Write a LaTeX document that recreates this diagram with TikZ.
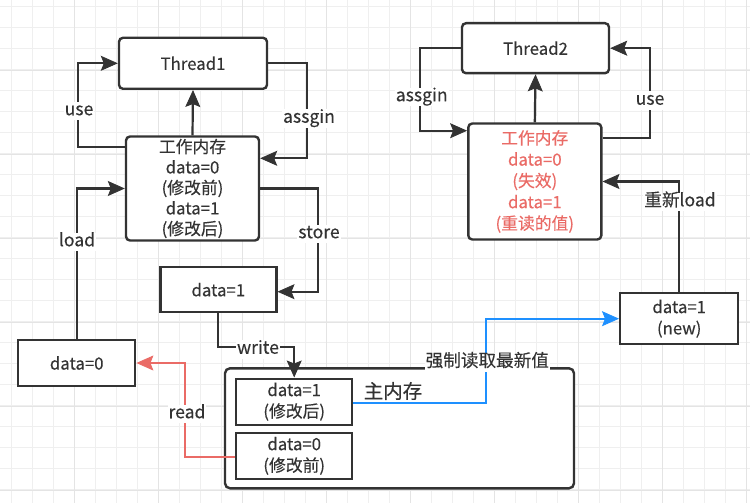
\documentclass[tikz,border=0pt]{standalone}
\usepackage{fontspec}
\setmainfont{Noto Sans CJK SC}[FakeBold=0.25]
\usetikzlibrary{arrows.meta}
\definecolor{ln}{HTML}{333333}
\definecolor{tx}{HTML}{333333}
\definecolor{redc}{HTML}{EA6B66}
\definecolor{bluec}{HTML}{1E90FF}
\definecolor{gmin}{HTML}{EFEFEF}
\definecolor{gmaj}{HTML}{E4E4E4}
\newcommand\dgfont{\fontsize{16.8}{20.5}\selectfont}
\newcommand\dgfontb{\fontsize{16.8}{21.3}\selectfont}
\newcommand\dglfont{\fontsize{17.6}{21}\selectfont}
\tikzset{
  box/.style={draw=ln, line width=2.4pt, fill=white, rounded corners=4pt, text=tx, align=center, inner sep=0pt, font=\dgfont},
  sbox/.style={box, rounded corners=0pt},
  tipk/.style={-{Stealth[length=17pt,width=15pt,inset=3pt,line width=0.8pt]}},
  conn/.style={draw=ln, line width=2.2pt, tipk},
  rconn/.style={conn, draw=redc},
  bconn/.style={conn, draw=bluec},
  lbl/.style={fill=white, text=tx, font=\dglfont, inner sep=1pt, text height=12.5pt, text depth=4pt},
  gminor/.style={draw=gmin, line width=1.1pt},
  gmajor/.style={draw=gmaj, line width=1.1pt}
}
\begin{document}
\begin{tikzpicture}[x=1pt,y=-1pt]
\useasboundingbox (0,0) rectangle (750,503);
\fill[white] (0,0) rectangle (750,503);
\foreach \i in {0,...,35} \draw[gminor] ({11.7+21*\i},0) -- ({11.7+21*\i},503);
\foreach \j in {0,...,23} \draw[gminor] (0,{6.7+21*\j}) -- (750,{6.7+21*\j});
\foreach \i in {0,...,8} \draw[gmajor] ({74.3+84*\i},0) -- ({74.3+84*\i},503);
\foreach \j in {0,...,5} \draw[gmajor] (0,{70.7+84*\j}) -- (750,{70.7+84*\j});

% nodes
\node[box, minimum width=148pt, minimum height=51pt] (t1) at (193,63.3) {Thread1};
\node[box, minimum width=133pt, minimum height=104pt] (wm1) at (192.5,188.5) {工作内存\\data=0\\(修改前)\\data=1\\(修改后)};
\node[sbox, minimum width=116pt, minimum height=45pt] (mid1) at (218.3,289.7) {data=1};
\node[sbox, minimum width=117pt, minimum height=46pt] (d0) at (76.7,363) {data=0};
\node[box, rounded corners=5pt, minimum width=349pt, minimum height=120pt] (mm) at (399.5,428.3) {};
\node[sbox, font=\dgfontb, minimum width=116pt, minimum height=46pt] (in1) at (294.2,401.7) {data=1\\(修改后)};
\node[sbox, font=\dgfontb, minimum width=116pt, minimum height=46pt] (in0) at (294.2,455.8) {data=0\\(修改前)};
\node[box, minimum width=147pt, minimum height=50pt] (t2) at (535.5,48.2) {Thread2};
\node[box, font=\dgfontb, text=redc, minimum width=133pt, minimum height=116pt] (wm2) at (534.8,181.5) {工作内存\\data=0\\(失效)\\data=1\\(重读的值)};
\node[sbox, font=\dgfontb, minimum width=118pt, minimum height=51pt] (new) at (679.2,318.7) {data=1\\(new)};
\node[text=tx, font=\fontsize{19.5}{22}\selectfont, inner sep=0pt] (mmlbl) at (393,391) {主内存};

% connectors thread1
\draw[conn] (wm1.north) -- (t1.south);
\draw[conn] (wm1.west |- 0,146.7) -- (78.3,146.7) -- (78.3,63.3) -- (t1.west);
\draw[conn] (t1.east) -- (307.3,63.3) -- (307.3,158.3) -- (wm1.east |- 0,158.3);
\draw[conn] (d0.north) -- (76.7,188.5) -- (wm1.west);
\draw[conn] (wm1.east) -- (318.3,188.5) -- (318.3,291.7) -- (mid1.east |- 0,291.7);
\draw[conn] (mid1.south) -- (218.3,346.7) -- (294.2,346.7) -- (in1.north);
\draw[rconn] (in0.west |- 0,456.7) -- (185,456.7) -- (185,363) -- (d0.east);
\draw[bconn] (in1.east |- 0,403.3) -- (486,403.3) -- (486,318.7) -- (new.west);
% connectors thread2
\draw[conn] (wm2.north) -- (t2.south);
\draw[conn] (t2.west) -- (420,48.2) -- (420,130.7) -- (wm2.west |- 0,130.7);
\draw[conn] (wm2.east |- 0,138.3) -- (650,138.3) -- (650,48.2) -- (t2.east);
\draw[conn] (new.north) -- (679.2,181.5) -- (wm2.east);

% labels
\node[lbl] (luse1) at (79,111) {use};
\node[lbl] (lassgin1) at (309,118.5) {assgin};
\node[lbl] (lload) at (77,242) {load};
\node[lbl] (lstore) at (319,234) {store};
\node[lbl] (lwrite) at (258,349.5) {write};
\node[lbl] (lread) at (187,414) {read};
\node[lbl] (lforce) at (487.3,362.5) {强制读取最新值};
\node[lbl] (lassgin2) at (421.7,97) {assgin};
\node[lbl] (luse2) at (650,100.5) {use};
\node[lbl] (lreload) at (680,202) {重新load};
\end{tikzpicture}
\end{document}
